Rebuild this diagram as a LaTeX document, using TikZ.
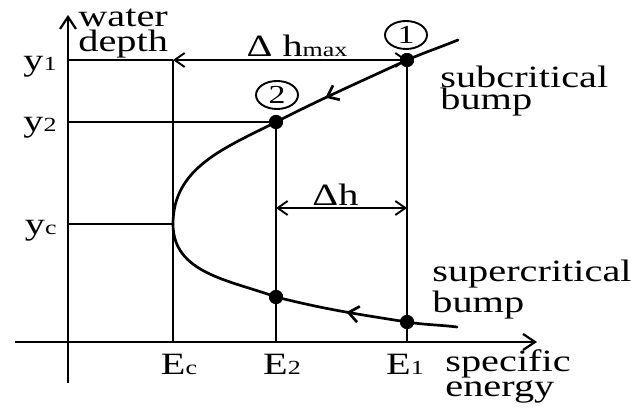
\documentclass[tikz,border=0pt]{standalone}
\usepackage{fontspec}
\setmainfont{Liberation Serif}[FakeStretch=1.3]
\usetikzlibrary{arrows.meta,shapes.geometric,decorations.markings}

\newcommand{\sm}[1]{{\fontsize{10}{10}\selectfont #1}}

\begin{document}
\begin{tikzpicture}[x=0.5pt,y=0.5pt,
        lbl/.style={font=\fontsize{15.5}{11}\selectfont,inner sep=0pt},
        axis/.style={line width=1.1pt,-{Straight Barb[length=6pt,width=8pt]}},
        guide/.style={line width=0.95pt},
        dim/.style={line width=0.95pt,{Straight Barb[length=5pt,width=7pt]}-{Straight Barb[length=5pt,width=7pt]}},
        curve/.style={line width=1.35pt},
        dot/.style={circle,fill,inner sep=0pt,minimum size=7pt},
        num/.style={ellipse,draw,line width=0.95pt,minimum width=21pt,minimum height=14pt,inner sep=0pt,font=\fontsize{13}{13}\selectfont},
        fwd/.style={postaction={decorate},decoration={markings,mark=at position #1 with {\arrow{Straight Barb[length=5pt,width=8pt]}}}},
        bwd/.style={postaction={decorate},decoration={markings,mark=at position #1 with {\arrowreversed{Straight Barb[length=5pt,width=8pt]}}}}]
        \useasboundingbox (0,0) rectangle (641,407);
        % axes
        \coordinate (o) at (68,65);
        \coordinate (ytop) at (68,392);
        \coordinate (ybot) at (68,24);
        \coordinate (xleft) at (15,65);
        \coordinate (xright) at (537,65);
        \draw[axis] (ybot) -- (ytop);
        \draw[axis] (xleft) -- (xright);
        % points on the curve
        \node[dot] (p1) at (407,347) {};
        \node[dot] (p2) at (276,285) {};
        \node[dot] (p3) at (276,110) {};
        \node[dot] (p4) at (407,85) {};
        \coordinate (vc) at (173,183);
        \coordinate (ctop) at (458,367);
        \coordinate (cbot) at (457,80);
        % helper points
        \coordinate (y1) at (68,347);
        \coordinate (ec1) at (173,347);
        \coordinate (y2) at (68,285);
        \coordinate (yc) at (68,183);
        \coordinate (ec0) at (173,65);
        \coordinate (e20) at (276,65);
        \coordinate (e10) at (407,65);
        \coordinate (dh2) at (276,199);
        \coordinate (dh1) at (407,199);
        % guide lines
        \draw[guide] (y1) -- (ec1);
        \draw[guide] (y2) -- (p2.center);
        \draw[guide] (yc) -- (vc);
        \draw[guide] (ec1) -- (ec0);
        \draw[guide] (p2.center) -- (e20);
        \draw[guide] (p1.center) -- (e10);
        \draw[dim] (ec1) -- node[lbl,anchor=base,xshift=3.5pt,yshift=1.5pt]{Δ h\sm{max}} (p1.center);
        \draw[dim] (dh2) -- node[lbl,anchor=base,xshift=-3pt,yshift=1pt]{Δh} (dh1);
        % specific energy curve
        \draw[curve,line cap=round] (ctop) to[out=202,in=23] (p1.center);
        \draw[curve,fwd=0.62] (p1.center) to[out=205,in=27] (p2.center);
        \draw[curve] (p2.center) to[out=207,in=90] (vc) to[out=270,in=160] (p3.center);
        \draw[curve,bwd=0.54] (p3.center) to[out=-14,in=171] (p4.center);
        \draw[curve,line cap=round] (p4.center) to[out=-9,in=173] (cbot);
        \node[dot] at (p1) {};
        \node[dot] at (p2) {};
        \node[dot] at (p3) {};
        \node[dot] at (p4) {};
        \node[num] (n1) at (406,372) {1};
        \node[num] (n2) at (277,312) {2};
        % labels
        \node[lbl,anchor=base west,align=left,font=\fontsize{15.5}{12.5}\selectfont] (wd) at (78,355) {water\\depth};
        \node[lbl,anchor=base east] (ly1) at (57,336) {y\sm{1}};
        \node[lbl,anchor=base east] (ly2) at (57,275) {y\sm{2}};
        \node[lbl,anchor=base east] (lyc) at (57,172) {y\sm{c}};
        \node[lbl,anchor=base] (lec) at (179,33) {E\sm{c}};
        \node[lbl,anchor=base] (le2) at (282,33) {E\sm{2}};
        \node[lbl,anchor=base] (le1) at (405,33) {E\sm{1}};
        \node[lbl,anchor=base west,align=left] (se) at (445,11) {specific\\energy};
        \node[lbl,anchor=base west,align=left] (sub) at (440,297) {subcritical\\bump};
        \node[lbl,anchor=base west,align=left] (sup) at (432,95) {supercritical\\bump};
    \end{tikzpicture}
\end{document}
